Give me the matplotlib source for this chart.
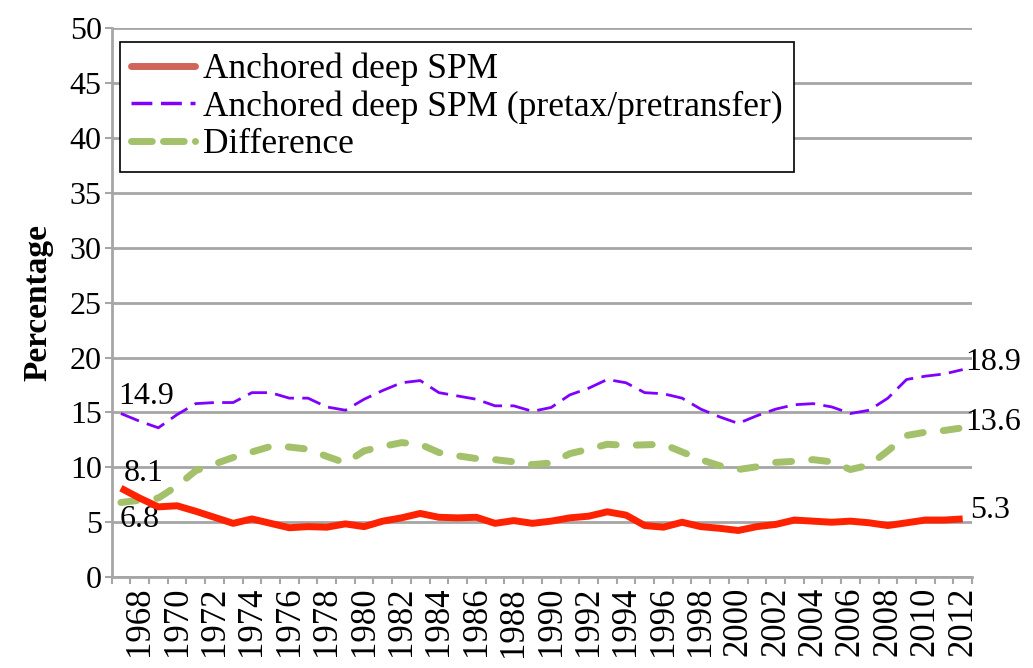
import numpy as np
import matplotlib.pyplot as plt
from matplotlib.lines import Line2D

plt.rcParams['font.family'] = ['Liberation Serif', 'DejaVu Serif']

years = list(range(1967, 2013))

anchored = [8.1, 7.2, 6.4, 6.5, 6.0, 5.45, 4.9, 5.3, 4.9, 4.5, 4.6, 4.55, 4.85, 4.6,
            5.1, 5.4, 5.8, 5.45, 5.4, 5.45, 4.9, 5.15, 4.9, 5.1, 5.4, 5.55, 5.95,
            5.65, 4.7, 4.55, 5.0, 4.6, 4.45, 4.25, 4.6, 4.8, 5.2, 5.1, 5.0, 5.1,
            4.95, 4.7, 4.95, 5.2, 5.2, 5.3]

pretax = [14.9, 14.2, 13.6, 14.8, 15.8, 15.9, 15.9, 16.8, 16.8, 16.3, 16.3, 15.5,
          15.2, 16.2, 17.0, 17.7, 17.9, 16.8, 16.5, 16.2, 15.6, 15.6, 15.1, 15.45,
          16.6, 17.2, 18.0, 17.7, 16.8, 16.7, 16.3, 15.3, 14.6, 14.0, 14.7, 15.3,
          15.7, 15.8, 15.5, 14.9, 15.2, 16.3, 18.0, 18.3, 18.5, 18.9]

difference = [6.8, 7.0, 7.2, 8.3, 9.7, 10.3, 10.9, 11.4, 11.9, 11.85, 11.65, 11.0,
              10.4, 11.5, 11.9, 12.25, 12.1, 11.35, 11.05, 10.8, 10.7, 10.5, 10.25,
              10.4, 11.25, 11.65, 12.1, 12.0, 12.05, 12.1, 11.4, 10.7, 10.15, 9.8,
              10.05, 10.45, 10.55, 10.7, 10.5, 9.8, 10.2, 11.5, 12.9, 13.2, 13.35, 13.6]

labels = ['Anchored deep SPM', 'Anchored deep SPM (pretax/pretransfer)', 'Difference']

red = '#ff2200'
purple = '#7f00ff'
green = '#a3c16a'
grid_grey = '#a6a6a6'

x = np.arange(len(years))

fig = plt.figure(figsize=(10.33, 6.68), dpi=100)
ax = fig.add_axes([0.108, 0.136, 0.833, 0.822])

ax.plot(x, anchored, color=red, lw=5, solid_joinstyle='round', solid_capstyle='butt', zorder=4)
ax.plot(x, pretax, color=purple, lw=2, dashes=(7, 3), zorder=3)
ax.plot(x, difference, color=green, lw=5, dashes=(2.3, 2.9), dash_capstyle='round', zorder=3)

ax.set_xlim(-0.5, len(years) - 0.5)
ax.set_ylim(0, 50)
ax.set_yticks(np.arange(0, 51, 5))
ax.yaxis.grid(True, color=grid_grey, lw=2)
ax.set_axisbelow(True)

ax.set_xticks(x[1::2])
ax.set_xticklabels([str(y) for y in years[1::2]], rotation=90)
ax.set_xticks(np.arange(-0.5, len(years), 1), minor=True)
ax.tick_params(axis='x', which='major', length=0, pad=7, labelsize=25)
ax.tick_params(axis='x', which='minor', length=5, width=1.5, color=grid_grey)
ax.tick_params(axis='y', length=5, width=1.5, color=grid_grey, labelsize=23, pad=2)

for side in ['top', 'right']:
    ax.spines[side].set_visible(False)
for side in ['left', 'bottom']:
    ax.spines[side].set_color(grid_grey)
    ax.spines[side].set_linewidth(2)

ax.set_ylabel('Percentage', fontsize=24, fontweight='bold', labelpad=12)

# end point labels
ax.annotate('14.9', (0, pretax[0]), xytext=(-2, 2), textcoords='offset points',
            fontsize=23, va='bottom', ha='left')
ax.annotate('8.1', (0, anchored[0]), xytext=(2, 0), textcoords='offset points',
            fontsize=23, va='bottom', ha='left')
ax.annotate('6.8', (0, difference[0]), xytext=(-1, -2), textcoords='offset points',
            fontsize=23, va='top', ha='left')
ax.annotate('18.9', (x[-1], pretax[-1]), xytext=(2, 5), textcoords='offset points',
            fontsize=23, va='center', ha='left', annotation_clip=False)
ax.annotate('13.6', (x[-1], difference[-1]), xytext=(2, 4), textcoords='offset points',
            fontsize=23, va='center', ha='left', annotation_clip=False)
ax.annotate('5.3', (x[-1], anchored[-1]), xytext=(5, 6), textcoords='offset points',
            fontsize=23, va='center', ha='left', annotation_clip=False)

handles = [
    Line2D([], [], color='#d0665a', lw=5, solid_capstyle='round'),
    Line2D([], [], color=purple, lw=2.5, dashes=(6, 2.5)),
    Line2D([], [], color=green, lw=5, dashes=(3, 1.6), dash_capstyle='round'),
]
leg = ax.legend(handles, labels, loc='upper left', bbox_to_anchor=(0.01, 0.975),
                fontsize=25.5, frameon=True, fancybox=False, edgecolor='black',
                framealpha=1, handlelength=1.8, handletextpad=0.25,
                borderpad=0.3, labelspacing=0.12, borderaxespad=0)
leg.get_frame().set_linewidth(1.2)

plt.savefig('out.png', dpi=100)
